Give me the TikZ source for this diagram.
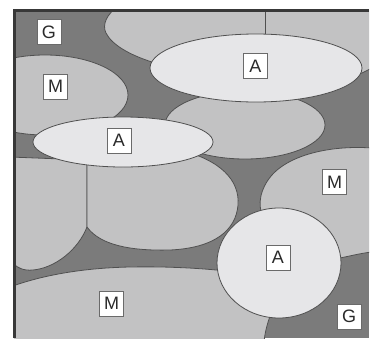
\documentclass[tikz,border=0pt]{standalone}
\usepackage{fontspec}
\setmainfont{Liberation Sans}
\definecolor{ggray}{HTML}{7B7B7B}
\definecolor{mgray}{HTML}{C2C2C3}
\definecolor{agray}{HTML}{E6E6E8}
\definecolor{bordc}{HTML}{505050}
\definecolor{framec}{HTML}{383838}
\definecolor{lblborder}{HTML}{6A6A6A}
\definecolor{lbltext}{HTML}{2A2A2A}
\begin{document}
\begin{tikzpicture}[x=1pt,y=-1pt,
  edge/.style={draw=bordc, line width=0.8pt},
  mcell/.style={fill=mgray, edge},
  acell/.style={fill=agray, edge},
  lbl/.style={draw=lblborder, fill=white, line width=0.9pt, minimum width=24pt, minimum height=25pt, inner sep=0pt, font=\fontsize{18pt}{18pt}\selectfont, text=lbltext}]
\useasboundingbox (0,0) rectangle (370,338);
\fill[white] (0,0) rectangle (370,338);
\begin{scope}
\clip (14,10) rectangle (369,338);
\fill[ggray] (14,10) rectangle (369,338);
% top blob
\path[mcell] (120,5) .. controls (106,14) and (102,25) .. (106,33) .. controls (112,45) and (130,55) .. (152,62) -- (350,78) .. controls (360,74) .. (372,68) -- (372,5) -- cycle;
\draw[edge] (265,5) -- (265,40);
% left M
\path[mcell] (45,95) ellipse [x radius=83pt, y radius=40pt];
% middle M
\path[mcell] (245,125) ellipse [x radius=80pt, y radius=34pt];
% lower-left cells
\path[mcell] (10,157) -- (87,160) -- (87,227) .. controls (78,250) and (55,268) .. (33,270) .. controls (24,271) and (16,268) .. (10,260) -- cycle;
\path[mcell] (87,158) -- (180,150) .. controls (220,160) and (240,180) .. (238,205) .. controls (236,230) and (215,248) .. (170,250) .. controls (130,251) and (100,245) .. (87,227) -- cycle;
% bottom M
\path[mcell] (10,287) .. controls (40,276) and (80,268) .. (130,267) .. controls (180,266) and (230,270) .. (260,276) -- (285,300) -- (270,316) .. controls (267,325) and (265,332) .. (264,342) -- (10,342) -- cycle;
% right M
\path[mcell] (372,148) .. controls (330,145) and (285,155) .. (268,180) .. controls (258,195) and (258,210) .. (265,220) -- (300,250) -- (340,258) .. controls (350,256) and (362,253) .. (372,252) -- cycle;
% A ellipses
\path[acell] (256,68) ellipse [x radius=106pt, y radius=34pt];
\path[acell] (123,142) ellipse [x radius=90pt, y radius=25pt];
\path[acell] (279,263) ellipse [x radius=62pt, y radius=55pt];
\end{scope}
\draw[line width=3pt, framec] (14.7,338) -- (14.7,10.5) -- (369,10.5);
% labels
\node[lbl] (g1) at (49,32) {G};
\node[lbl] (m1) at (55.5,86.5) {M};
\node[lbl] (a1) at (255.5,66) {A};
\node[lbl] (a2) at (119,140.5) {A};
\node[lbl] (m2) at (334.5,182) {M};
\node[lbl] (a3) at (278,257.5) {A};
\node[lbl] (m3) at (111.5,303.5) {M};
\node[lbl] (g2) at (349,316.5) {G};
\end{tikzpicture}
\end{document}
